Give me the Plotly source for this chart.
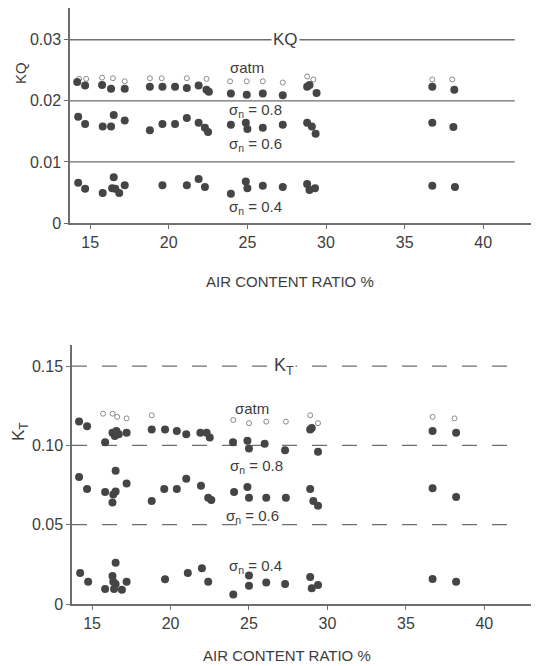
import plotly.graph_objects as go

# ---------------- data: top panel (KQ) ----------------
kq_atm_x = [14.3, 14.75, 15.76, 16.45, 17.2, 18.8, 19.55, 21.15, 22.4, 23.9, 24.96, 25.98, 27.25, 28.8, 29.2, 36.76, 38.03]
kq_atm_y = [0.0236, 0.0236, 0.0238, 0.0237, 0.0232, 0.0237, 0.0237, 0.0237, 0.0236, 0.0232, 0.0232, 0.0232, 0.0230, 0.0240, 0.0235, 0.0235, 0.0235]

kq_08_x = [14.18, 14.68, 15.76, 16.33, 17.2, 18.8, 19.6, 20.4, 21.15, 21.9, 22.4, 22.55, 23.95, 24.96, 25.98, 27.25, 28.8, 28.95, 29.4, 36.76, 38.16]
kq_08_y = [0.0231, 0.0225, 0.0226, 0.0220, 0.0220, 0.0223, 0.0223, 0.0223, 0.0221, 0.0225, 0.0218, 0.0215, 0.0212, 0.0210, 0.0212, 0.0209, 0.0223, 0.0226, 0.0213, 0.0223, 0.0218]

kq_06_x = [14.24, 14.68, 15.8, 16.33, 16.5, 17.2, 18.8, 19.6, 20.4, 21.15, 21.9, 22.3, 22.5, 23.95, 24.9, 25.0, 25.98, 27.25, 28.8, 29.1, 29.34, 36.76, 38.1]
kq_06_y = [0.0174, 0.0162, 0.0158, 0.0158, 0.0177, 0.0168, 0.0152, 0.0162, 0.0162, 0.0172, 0.0164, 0.0156, 0.0149, 0.0161, 0.0164, 0.0154, 0.0156, 0.0161, 0.0164, 0.0158, 0.0146, 0.0164, 0.0157]

kq_04_x = [14.24, 14.68, 15.8, 16.4, 16.5, 16.6, 16.85, 17.2, 19.6, 21.15, 21.9, 22.3, 23.95, 24.9, 25.0, 25.98, 27.25, 28.8, 28.95, 29.3, 36.76, 38.2]
kq_04_y = [0.0066, 0.0056, 0.0049, 0.0057, 0.0075, 0.0056, 0.0049, 0.0062, 0.0062, 0.0062, 0.0072, 0.0059, 0.0048, 0.0068, 0.0057, 0.0061, 0.0059, 0.0064, 0.0054, 0.0057, 0.0061, 0.0059]

# ---------------- data: bottom panel (KT) ----------------
kt_atm_x = [15.7, 16.3, 16.6, 17.2, 18.8, 24.0, 25.0, 26.1, 27.35, 28.9, 29.4, 36.7, 38.1]
kt_atm_y = [0.120, 0.120, 0.118, 0.117, 0.119, 0.116, 0.114, 0.115, 0.115, 0.119, 0.114, 0.118, 0.117]

kt_08_x = [14.17, 14.68, 15.83, 16.3, 16.45, 16.55, 16.7, 17.2, 18.8, 19.65, 20.4, 21.0, 21.9, 22.3, 22.5, 23.98, 24.9, 25.0, 26.0, 27.3, 28.9, 29.0, 29.4, 36.7, 38.2]
kt_08_y = [0.115, 0.112, 0.102, 0.108, 0.106, 0.109, 0.107, 0.108, 0.110, 0.110, 0.109, 0.107, 0.108, 0.108, 0.105, 0.102, 0.103, 0.098, 0.101, 0.097, 0.110, 0.111, 0.096, 0.109, 0.108]

kt_06_x = [14.17, 14.68, 15.83, 16.3, 16.35, 16.5, 16.5, 17.2, 18.8, 19.6, 20.4, 21.0, 21.94, 22.4, 22.6, 24.05, 24.9, 25.0, 26.1, 27.35, 28.9, 29.1, 29.4, 36.7, 38.2]
kt_06_y = [0.080, 0.0725, 0.0706, 0.064, 0.069, 0.071, 0.084, 0.076, 0.065, 0.0725, 0.0725, 0.079, 0.0745, 0.067, 0.0655, 0.0706, 0.0738, 0.067, 0.067, 0.067, 0.0725, 0.065, 0.062, 0.073, 0.0675]

kt_04_x = [14.24, 14.75, 15.83, 16.3, 16.35, 16.4, 16.5, 16.5, 16.9, 17.2, 19.65, 21.1, 22.0, 22.4, 24.0, 25.0, 25.0, 26.1, 27.3, 28.9, 29.0, 29.4, 36.7, 38.2]
kt_04_y = [0.0195, 0.014, 0.0095, 0.0176, 0.014, 0.0095, 0.0126, 0.026, 0.009, 0.014, 0.0156, 0.0195, 0.0225, 0.014, 0.006, 0.018, 0.0115, 0.0135, 0.0126, 0.017, 0.010, 0.012, 0.0157, 0.014]

# ---------------- ticks ----------------
x_ticks = [15, 20, 25, 30, 35, 40]
kq_ticks = [0, 0.01, 0.02, 0.03]
kq_ticktext = ["0", "0.01", "0.02", "0.03"]
kt_ticks = [0, 0.05, 0.10, 0.15]
kt_ticktext = ["0", "0.05", "0.10", "0.15"]

# ---------------- figure ----------------
INK = "#3d3d3d"
LINE = "#6e6e6e"
FONT = "Liberation Sans"

# page body has an 8px margin: size the figure to fit and convert window pixels to paper fractions
OFF = 8
W, H = 539 - OFF, 666 - OFF
def px(p):
    return (p - OFF) / W
def py(p):
    return 1 - (p - OFF) / H

filled = dict(size=8, color="#454545")
opened = dict(size=5, symbol="circle-open", color="#8a8a8a", line=dict(width=1))

fig = go.Figure()

def add(xs, ys, marker, xa, ya):
    fig.add_trace(go.Scatter(x=xs, y=ys, mode="markers", marker=marker,
                             xaxis=xa, yaxis=ya, showlegend=False, hoverinfo="skip"))

add(kq_atm_x, kq_atm_y, opened, "x", "y")
add(kq_08_x, kq_08_y, filled, "x", "y")
add(kq_06_x, kq_06_y, filled, "x", "y")
add(kq_04_x, kq_04_y, filled, "x", "y")

add(kt_atm_x, kt_atm_y, opened, "x2", "y2")
add(kt_08_x, kt_08_y, filled, "x2", "y2")
add(kt_06_x, kt_06_y, filled, "x2", "y2")
add(kt_04_x, kt_04_y, filled, "x2", "y2")

x_range = [13.72, 43.1]
grid_end = 42.0

# horizontal reference lines at each non-zero tick
shapes = []
for v in kq_ticks[1:]:
    shapes.append(dict(type="line", xref="x", yref="y", x0=x_range[0], x1=grid_end, y0=v, y1=v,
                       line=dict(color=LINE, width=1.3), layer="below"))
for v in kt_ticks[1:]:
    shapes.append(dict(type="line", xref="x2", yref="y2", x0=x_range[0], x1=grid_end, y0=v, y1=v,
                       line=dict(color=LINE, width=1.3, dash="longdash"), layer="below"))

axis_common = dict(showgrid=False, zeroline=False, showline=True, linecolor=LINE, linewidth=1.5,
                   ticks="outside", ticklen=4, tickcolor=LINE, automargin=False,
                   tickfont=dict(family=FONT, size=16, color=INK))

fig.update_layout(
    width=W, height=H,
    margin=dict(l=0, r=0, t=0, b=0, pad=0, autoexpand=False),
    paper_bgcolor="white", plot_bgcolor="white",
    shapes=shapes,
    xaxis=dict(domain=[px(70), px(532)], anchor="y", range=x_range,
               tickvals=x_ticks, **axis_common),
    yaxis=dict(domain=[py(223), py(8)], anchor="x", range=[0, 0.0352],
               tickvals=kq_ticks, ticktext=kq_ticktext, **axis_common),
    xaxis2=dict(domain=[px(72), px(533)], anchor="y2", range=x_range,
                tickvals=x_ticks, **axis_common),
    yaxis2=dict(domain=[py(604), py(345)], anchor="x2", range=[0, 0.1633],
                tickvals=kt_ticks, ticktext=kt_ticktext, **axis_common),
)

ann = []
lab = dict(family=FONT, size=15, color=INK)
# axis titles
ann.append(dict(text="AIR CONTENT RATIO %", xref="paper", yref="paper", x=px(290), y=py(282),
                xanchor="center", yanchor="middle",
                showarrow=False, font=dict(family=FONT, size=15, color=INK)))
ann.append(dict(text="AIR CONTENT RATIO %", xref="paper", yref="paper", x=px(287), y=py(655),
                xanchor="center", yanchor="middle",
                showarrow=False, font=dict(family=FONT, size=15, color=INK)))
ann.append(dict(text="KQ", xref="paper", yref="paper", x=px(20), y=py(73), textangle=-90,
                xanchor="center", yanchor="middle",
                showarrow=False, font=dict(family=FONT, size=15, color=INK)))
ann.append(dict(text="K<sub>T</sub>", xref="paper", yref="paper", x=px(20), y=py(432), textangle=-90,
                xanchor="center", yanchor="middle",
                showarrow=False, font=dict(family=FONT, size=17, color=INK)))
# inline line labels
ann.append(dict(text="KQ", xref="x", yref="y", x=27.4, y=0.03, showarrow=False, bgcolor="white",
                font=dict(family=FONT, size=17, color=INK)))
ann.append(dict(text="K<sub>T</sub>", xref="x2", yref="y2", x=27.2, y=0.15, showarrow=False, bgcolor="white",
                font=dict(family=FONT, size=18, color=INK)))
# sigma labels
ann.append(dict(text="σatm", xref="x", yref="y", x=25.0, y=0.0255, showarrow=False, font=lab))
ann.append(dict(text="σ<sub>n</sub> = 0.8", xref="x", yref="y", x=25.5, y=0.0185, showarrow=False, font=lab))
ann.append(dict(text="σ<sub>n</sub> = 0.6", xref="x", yref="y", x=25.5, y=0.0128, showarrow=False, font=lab))
ann.append(dict(text="σ<sub>n</sub> = 0.4", xref="x", yref="y", x=25.5, y=0.0026, showarrow=False, font=lab))
ann.append(dict(text="σatm", xref="x2", yref="y2", x=25.2, y=0.1235, showarrow=False, font=lab))
ann.append(dict(text="σ<sub>n</sub> = 0.8", xref="x2", yref="y2", x=25.5, y=0.087, showarrow=False, font=lab))
ann.append(dict(text="σ<sub>n</sub> = 0.6", xref="x2", yref="y2", x=25.2, y=0.055, showarrow=False, font=lab))
ann.append(dict(text="σ<sub>n</sub> = 0.4", xref="x2", yref="y2", x=25.4, y=0.0235, showarrow=False, font=lab))
fig.update_layout(annotations=ann)

fig.write_html("out.html")
